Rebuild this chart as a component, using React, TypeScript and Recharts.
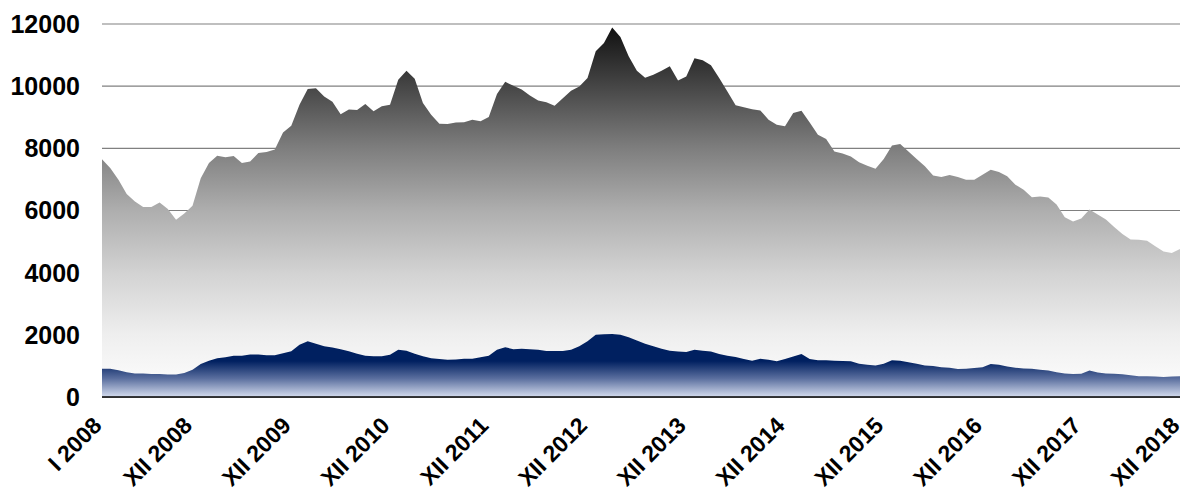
import { AreaChart, Area, XAxis, YAxis, CartesianGrid } from "recharts";

const romanMonths = ["I", "II", "III", "IV", "V", "VI", "VII", "VIII", "IX", "X", "XI", "XII"];
const years = [2008, 2009, 2010, 2011, 2012, 2013, 2014, 2015, 2016, 2017, 2018];

const tickLabels = [
  "I 2008", "XII 2008", "XII 2009", "XII 2010", "XII 2011", "XII 2012",
  "XII 2013", "XII 2014", "XII 2015", "XII 2016", "XII 2017", "XII 2018"
];

const yTicks = [0, 2000, 4000, 6000, 8000, 10000, 12000];

// grey area (total), monthly I 2008 .. XII 2018
const totalValues = [
  7650, 7370, 6990, 6530, 6290, 6110, 6110, 6260, 6050, 5700, 5900, 6150,
  7040, 7530, 7760, 7710, 7750, 7530, 7580, 7850, 7880, 7960, 8510, 8730,
  9400, 9910, 9930, 9670, 9500, 9100, 9250, 9230, 9430, 9190, 9350, 9400,
  10210, 10500, 10240, 9460, 9080, 8790, 8780, 8830, 8840, 8920, 8870, 9010,
  9750, 10140, 10010, 9890, 9700, 9540, 9480, 9370, 9610, 9850, 9990, 10260,
  11120, 11390, 11890, 11580, 10960, 10500, 10270, 10370, 10500, 10640, 10180, 10310,
  10900, 10830, 10670, 10260, 9830, 9390, 9320, 9260, 9220, 8920, 8760, 8710,
  9140, 9210, 8830, 8440, 8300, 7900, 7830, 7740, 7550, 7440, 7340, 7660,
  8090, 8140, 7900, 7660, 7420, 7130, 7080, 7140, 7080, 6990, 6990, 7150,
  7310, 7240, 7100, 6830, 6670, 6430, 6450, 6420, 6190, 5780, 5650, 5740,
  6030, 5870, 5710, 5470, 5240, 5070, 5060, 5030, 4850, 4680, 4630, 4760
];

// navy area
const subsetValues = [
  910, 910, 860, 800, 760, 760, 740, 740, 720, 720, 770, 880,
  1060, 1170, 1250, 1280, 1330, 1330, 1370, 1370, 1340, 1340, 1410, 1470,
  1680, 1790, 1710, 1630, 1590, 1540, 1470, 1390, 1330, 1310, 1310, 1360,
  1520, 1490, 1390, 1310, 1250, 1220, 1200, 1210, 1230, 1230, 1280, 1330,
  1520, 1600, 1540, 1550, 1540, 1520, 1480, 1480, 1480, 1520, 1630, 1790,
  2000, 2020, 2030, 2000, 1920, 1820, 1710, 1630, 1550, 1490, 1460, 1450,
  1520, 1490, 1460, 1380, 1330, 1290, 1220, 1170, 1230, 1200, 1150, 1220,
  1300, 1380, 1220, 1180, 1180, 1170, 1160, 1150, 1070, 1040, 1010, 1070,
  1180, 1170, 1120, 1070, 1010, 1000, 960, 940, 900, 910, 930, 960,
  1060, 1040, 980, 940, 920, 910, 880, 850, 800, 760, 740, 750,
  850, 790, 760, 750, 730, 700, 670, 670, 660, 640, 660, 670
];

const months = years.flatMap((y) => romanMonths.map((m) => `${m} ${y}`));

const data = months.map((month, i) => ({
  month,
  total: totalValues[i],
  subset: subsetValues[i]
}));

const FONT = "'Liberation Sans', Arial, sans-serif";

function XTick({ x, y, payload }: any) {
  const ax = x + 1;
  const ay = y + 30;
  return (
    <text
      x={ax}
      y={ay}
      transform={`rotate(-45, ${ax}, ${ay})`}
      textAnchor="end"
      fontSize={23}
      fontWeight="bold"
      fontFamily={FONT}
      fill="#000"
    >
      {payload.value}
    </text>
  );
}

export default function App() {
  return (
    <div style={{ position: "absolute", left: 0, top: 0, width: 1185, height: 492, background: "#fff" }}>
      <AreaChart
        width={1185}
        height={492}
        data={data}
        margin={{ top: 24, right: 5, bottom: 0, left: 0 }}
      >
        <defs>
          <linearGradient id="greyFill" gradientUnits="userSpaceOnUse" x1="0" y1="24" x2="0" y2="397">
            <stop offset="0%" stopColor="#0e0e0e" />
            <stop offset="17%" stopColor="#474747" />
            <stop offset="33%" stopColor="#7d7d7d" />
            <stop offset="50%" stopColor="#aeaeae" />
            <stop offset="67%" stopColor="#d3d3d3" />
            <stop offset="83%" stopColor="#eeeeee" />
            <stop offset="100%" stopColor="#ffffff" />
          </linearGradient>
          <linearGradient id="navyFill" gradientUnits="userSpaceOnUse" x1="0" y1="335" x2="0" y2="397">
            <stop offset="0%" stopColor="#002060" />
            <stop offset="42%" stopColor="#002060" />
            <stop offset="70%" stopColor="#5a6e9e" />
            <stop offset="100%" stopColor="#d4dcee" />
          </linearGradient>
        </defs>
        <CartesianGrid vertical={false} stroke="#808080" strokeWidth={1.2} />
        <XAxis
          dataKey="month"
          ticks={tickLabels}
          interval={0}
          tickSize={0}
          tickMargin={0}
          tickLine={false}
          height={95}
          axisLine={{ stroke: "#000", strokeWidth: 1.5 }}
          tick={<XTick />}
        />
        <YAxis
          domain={[0, 12000]}
          ticks={yTicks}
          width={102}
          tickSize={0}
          tickMargin={22}
          tickLine={false}
          axisLine={false}
          tick={{ fontSize: 25, fontWeight: "bold", fill: "#000", fontFamily: FONT }}
        />
        <Area
          type="linear"
          dataKey="total"
          stroke="none"
          fill="url(#greyFill)"
          fillOpacity={1}
          isAnimationActive={false}
        />
        <Area
          type="linear"
          dataKey="subset"
          stroke="none"
          fill="url(#navyFill)"
          fillOpacity={1}
          isAnimationActive={false}
        />
      </AreaChart>
    </div>
  );
}
